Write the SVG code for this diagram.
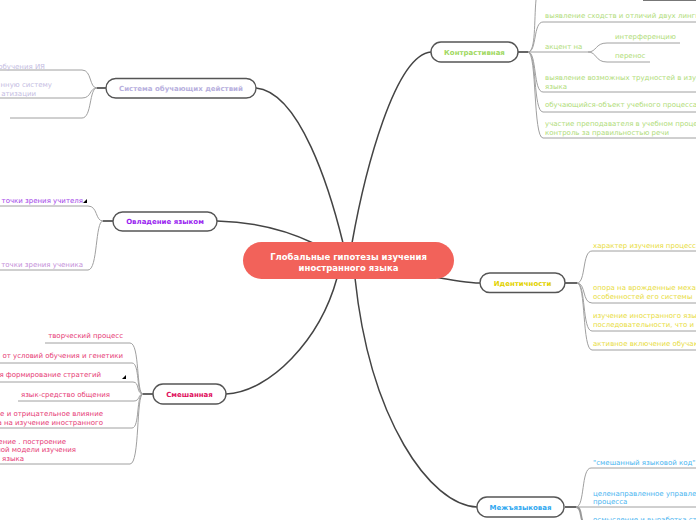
<svg xmlns="http://www.w3.org/2000/svg" width="696" height="520" viewBox="0 0 696 520">
<style>
text{font-family:"DejaVu Sans","Liberation Sans",sans-serif;font-size:7px}
.main{stroke:#555;stroke-width:1.4;fill:#fff}
.mt{font-weight:bold;text-anchor:middle}
.conn{fill:none;stroke:#444;stroke-width:1.5}
.jn{fill:none;stroke:#666;stroke-width:2}
.br{fill:none;stroke:#a0a0a0;stroke-width:1}
.e{text-anchor:end}
.sys{fill:#c4bce2}.vl1{fill:#a23ee8}.vl2{fill:#c48ed8}.sm{fill:#e63874}.ko{fill:#b0dc78}.id{fill:#e8dc3c}.mz{fill:#48b4f0}
</style>
<rect width="696" height="520" fill="#fff"/>
<g id="connectors">
<path class="conn" d="M256,88 C300,92 330,190 343,243"/>
<path class="conn" d="M352,243 C365,170 395,55 431,52"/>
<path class="conn" d="M217,221 C260,222 290,232 313,243"/>
<path class="conn" d="M337,278 C320,340 270,392 226,394"/>
<path class="conn" d="M430,276 C450,280 465,283 480,283"/>
<path class="conn" d="M355,278 C370,420 430,505 477,507"/>
</g>
<g id="center">
<rect x="243" y="242" width="211" height="37" rx="18.5" fill="#f2625a"/>
<text class="mt" x="348.5" y="259.5" fill="#fff" style="font-size:8.5px">Глобальные гипотезы изучения</text>
<text class="mt" x="348.5" y="270.5" fill="#fff" style="font-size:8.5px">иностранного языка</text>
</g>
<g id="sistema">
<path class="jn" d="M106,88 L97,88"/>
<path class="br" d="M97,88 C89,88 92,70 82,70 L0,70"/>
<path class="br" d="M97,88 C89,88 92,98 82,98 L0,98"/>
<path class="br" d="M97,88 C89,88 92,118 82,118 L10,118"/>
<rect class="main" x="106" y="78.5" width="150" height="19.5" rx="9.75"/>
<text class="mt sys" x="181" y="90.5" style="fill:#b8b0de">Система обучающих действий</text>
<text class="sys e" x="45" y="68.5">обучения ИЯ</text>
<text class="sys e" x="52" y="86.5">нную систему</text>
<text class="sys e" x="36" y="95.5">атизации</text>
</g>
<g id="ovladenie">
<path class="jn" d="M113,221 L103,221"/>
<path class="br" d="M103,221 C95,221 98,206 88,206 L0,206"/>
<path class="br" d="M103,221 C95,221 98,270 88,270 L0,270"/>
<rect class="main" x="113" y="212" width="104" height="19" rx="9.5"/>
<text class="mt" x="165" y="223.5" fill="#9a1ff0">Овладение языком</text>
<text class="vl1 e" x="83" y="202.5">точки зрения учителя</text>
<polygon points="83,203 87,203 87,199" fill="#000"/>
<text class="vl2 e" x="83" y="266.5">точки зрения ученика</text>
</g>
<g id="smeshannaya">
<path class="jn" d="M153,394 L143,394"/>
<path class="br" d="M143,394 C136,394 140,343 130,343 L45,343"/>
<path class="br" d="M143,394 C136,394 140,363 132,363 L0,363"/>
<path class="br" d="M143,394 C136,394 140,382 133,382 L0,382"/>
<path class="br" d="M143,394 C138,394 140,401 134,401 L18,401"/>
<path class="br" d="M143,394 C136,394 140,428 132,428 L0,428"/>
<path class="br" d="M143,394 C136,394 140,464 130,464 L0,464"/>
<rect class="main" x="153" y="384" width="73" height="20" rx="10"/>
<text class="mt" x="189.5" y="396.5" fill="#e0105e">Смешанная</text>
<text class="sm e" x="123" y="337.5">творческий процесс</text>
<text class="sm e" x="123" y="357.5">ь от условий обучения и генетики</text>
<text class="sm e" x="101" y="376.5">ля формирование стратегий</text>
<polygon points="122,379 126,379 126,375" fill="#000"/>
<text class="sm e" x="110" y="396.5">язык-средство общения</text>
<text class="sm e" x="103" y="415.5">ое и отрицательное влияние</text>
<text class="sm e" x="103" y="424.5">а на изучение иностранного</text>
<text class="sm e" x="66" y="443.5">ение . построение</text>
<text class="sm e" x="76" y="452">ной модели изучения</text>
<text class="sm e" x="24" y="460.5">языка</text>
</g>
<g id="kontrastivnaya">
<path class="jn" d="M518,52 L528,52"/>
<path class="br" d="M528,52 C536,52 534,20 536,0"/>
<path d="M643,0.5 L696,0.5" stroke="#777" stroke-width="1.2"/>
<path class="br" d="M528,52 C537,52 533,22 543,22 L696,22"/>
<path class="br" d="M528,52 L588,52"/>
<path class="br" d="M588,52 C597,52 595,43 607,43 L680,43"/>
<path class="br" d="M588,52 C597,52 595,62 607,62 L650,62"/>
<path class="br" d="M528,52 C537,52 533,92 543,92 L696,92"/>
<path class="br" d="M528,52 C537,52 533,112 543,112 L696,112"/>
<path class="br" d="M528,52 C537,52 533,138 543,138 L696,138"/>
<rect class="main" x="431" y="42" width="87" height="20" rx="10"/>
<text class="mt" x="474.5" y="54.5" fill="#a0d860">Контрастивная</text>
<text class="ko" x="545" y="17.5">выявление сходств и отличий двух лингв</text>
<text class="ko" x="545" y="48.5">акцент на</text>
<text class="ko" x="615" y="38.5">интерференцию</text>
<text class="ko" x="615" y="57.5">перенос</text>
<text class="ko" x="545" y="79.5">выявление возможных трудностей в изуч</text>
<text class="ko" x="545" y="88.5">языка</text>
<text class="ko" x="545" y="106.5">обучающийся-объект учебного процесса</text>
<text class="ko" x="545" y="125.5">участие преподавателя в учебном проце</text>
<text class="ko" x="545" y="134.5">контроль за правильностью речи</text>
</g>
<g id="identichnosti">
<path class="jn" d="M565,283 L577,283"/>
<path class="br" d="M577,283 C586,283 582,251 592,251 L696,251"/>
<path class="br" d="M577,283 C586,283 582,303 592,303 L696,303"/>
<path class="br" d="M577,283 C586,283 582,331 592,331 L696,331"/>
<path class="br" d="M577,283 C586,283 582,350 592,350 L696,350"/>
<rect class="main" x="480" y="273" width="85" height="19.5" rx="9.75"/>
<text class="mt" x="522.5" y="285.5" fill="#e2d200">Идентичности</text>
<text class="id" x="593" y="247.5">характер изучения процесса</text>
<text class="id" x="593" y="289.5">опора на врожденные механ</text>
<text class="id" x="593" y="298.5">особенностей его системы</text>
<text class="id" x="593" y="317.5">изучение иностранного язы</text>
<text class="id" x="593" y="326.5">последовательности, что и в</text>
<text class="id" x="593" y="345.5">активное включение обучак</text>
</g>
<g id="mezhyazykovaya">
<path class="jn" d="M565,507 L576,507"/>
<path class="br" d="M576,507 C585,507 581,468 591,468 L696,468"/>
<path class="br" d="M576,507 L696,507"/>
<path d="M576,507 C582,507 580,518 583,522" fill="none" stroke="#999" stroke-width="2"/>
<rect class="main" x="477" y="497" width="87" height="20" rx="10"/>
<text class="mt" x="520.5" y="509.5" fill="#30a8f0">Межъязыковая</text>
<text class="mz" x="593" y="464.5">"смешанный языковой код"</text>
<text class="mz" x="593" y="495.5">целенаправленное управлен</text>
<text class="mz" x="593" y="503.5">процесса</text>
<text class="mz" x="593" y="522">осмысление и выработка стр</text>
</g>
</svg>
